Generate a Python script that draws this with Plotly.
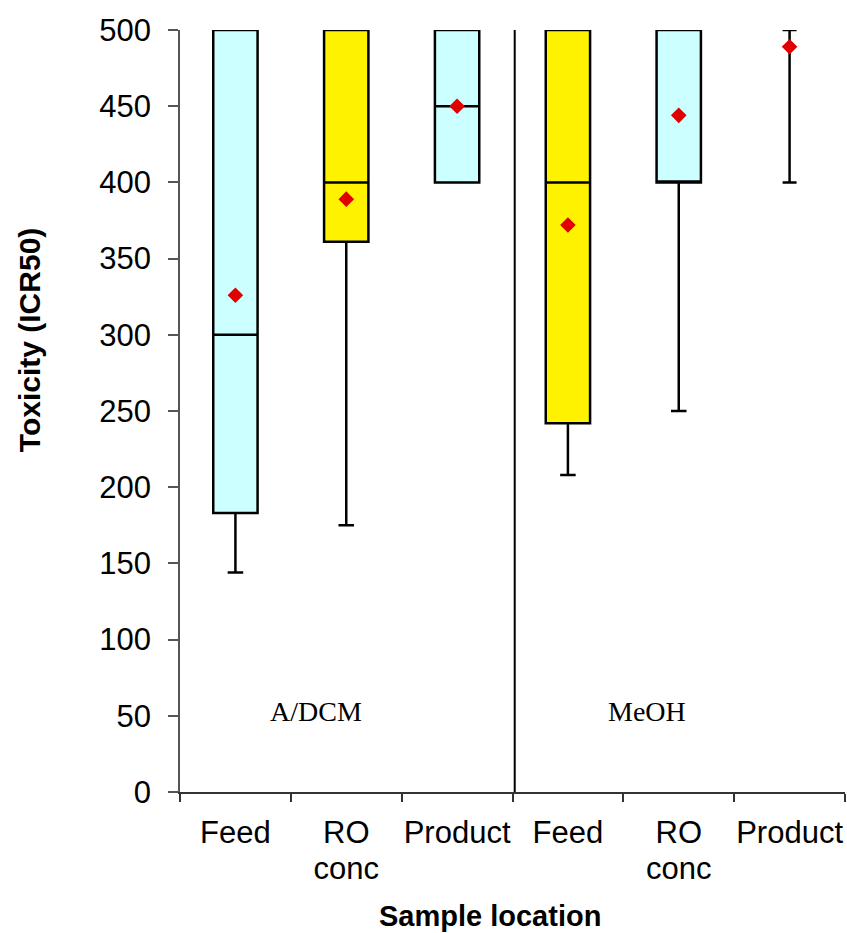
import plotly.graph_objects as go

# Sample locations (two extraction groups, three locations each)
labels_top = ["Feed", "RO", "Product", "Feed", "RO", "Product"]
labels_bottom = ["", "conc", "", "", "conc", ""]
groups = ["A/DCM", "MeOH"]

# Box statistics for toxicity (ICR50)
lower = [144, 175, 400, 208, 250, 400]
q1 = [183, 361, 400, 242, 400, None]
median = [300, 400, 450, 400, 400, None]
q3 = [500, 500, 500, 500, 500, None]
upper = [500, 500, 500, 500, 500, 500]
mean = [326, 389, 450, 372, 444, 489]
fills = ["#CCFFFF", "#FFF200", "#CCFFFF", "#FFF200", "#CCFFFF", None]

y_ticks = list(range(0, 501, 50))

FONT = "Liberation Sans, Arial, sans-serif"
xs = list(range(len(labels_top)))

fig = go.Figure()

for i in xs:
    if q1[i] is None:
        # whisker-only location: range with caps at both ends
        mid = (lower[i] + upper[i]) / 2
        half = (upper[i] - lower[i]) / 2
        fig.add_trace(go.Scatter(
            x=[i], y=[mid], mode="markers",
            marker=dict(size=1, color="rgba(0,0,0,0)"),
            error_y=dict(type="data", array=[half], symmetric=True,
                         color="black", thickness=2.5, width=7),
            hoverinfo="skip", showlegend=False,
        ))
    else:
        fig.add_trace(go.Box(
            x=[i], q1=[q1[i]], median=[median[i]], q3=[q3[i]],
            lowerfence=[lower[i]], upperfence=[upper[i]],
            fillcolor=fills[i], line=dict(color="black", width=2.5),
            width=0.4, whiskerwidth=0.35, boxpoints=False,
            showlegend=False,
        ))

# Mean markers
fig.add_trace(go.Scatter(
    x=xs, y=mean, mode="markers",
    marker=dict(symbol="diamond", size=12, color="#E00000",
                line=dict(width=0)),
    showlegend=False,
))

# Invisible trace that carries the second row of location labels
fig.add_trace(go.Scatter(x=xs, y=mean, xaxis="x2", mode="markers",
                         marker=dict(size=1, color="rgba(0,0,0,0)"),
                         hoverinfo="skip", showlegend=False))

# Divider between the two extraction groups
fig.add_shape(type="line", xref="x", yref="paper", x0=2.52, x1=2.52,
              y0=0, y1=1, line=dict(color="black", width=2))

# Group labels
for gx, name in zip([0.73, 3.71], groups):
    fig.add_annotation(x=gx, y=53, xref="x", yref="y", text=name,
                       showarrow=False,
                       font=dict(family="Liberation Serif, serif", size=28,
                                 color="black"))

# Axis titles
fig.add_annotation(x=-0.227, y=0.593, xref="paper", yref="paper",
                   text="<b>Toxicity (ICR50)</b>", textangle=-90,
                   showarrow=False, xanchor="center", yanchor="middle",
                   font=dict(family=FONT, size=30, color="black"))
fig.add_annotation(x=0.466, y=-0.163, xref="paper", yref="paper",
                   text="<b>Sample location</b>",
                   showarrow=False, xanchor="center", yanchor="middle",
                   font=dict(family=FONT, size=29, color="black"))

fig.update_layout(
    width=847, height=933,
    margin=dict(l=180, r=2, t=30, b=141),
    paper_bgcolor="white", plot_bgcolor="white",
    font=dict(family=FONT, size=31, color="black"),
    showlegend=False,
    xaxis=dict(
        range=[-0.5, 5.5], tickmode="array", tickvals=xs,
        ticktext=labels_top,
        ticks="", showgrid=False, zeroline=False,
        showline=True, linecolor="#333333", linewidth=2,
        ticklabelstandoff=12,
        minor=dict(tickmode="array",
                   tickvals=[v - 0.5 for v in range(len(labels_top) + 1)],
                   ticks="outside", ticklen=8, tickwidth=1.5,
                   tickcolor="#333333", showgrid=False),
        tickfont=dict(size=31, color="black"),
    ),
    xaxis2=dict(
        overlaying="x", side="bottom", anchor="y", matches="x",
        range=[-0.5, 5.5], tickmode="array", tickvals=xs,
        ticktext=labels_bottom, ticks="", showgrid=False, zeroline=False,
        showline=False, ticklabelstandoff=55,
        tickfont=dict(size=31, color="black"),
    ),
    yaxis=dict(
        range=[0, 500], tickmode="array", tickvals=y_ticks,
        ticks="outside", ticklen=10, tickwidth=1.5, tickcolor="#555555",
        showgrid=False, zeroline=False,
        showline=True, linecolor="#555555", linewidth=1.5,
        ticklabelstandoff=11,
        tickfont=dict(size=31, color="black"),
    ),
)

fig.write_html("out.html")
